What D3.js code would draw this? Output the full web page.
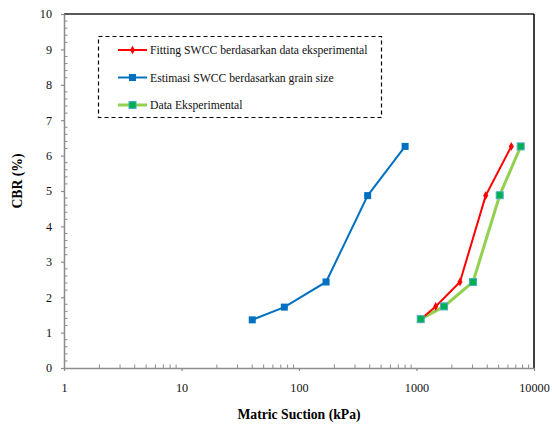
<!DOCTYPE html>
<html><head><meta charset="utf-8">
<script src="https://cdn.jsdelivr.net/npm/d3@7"></script>
<style>body{margin:0;background:#fff}svg{display:block}</style>
</head><body><svg id="c" width="552" height="424" style="font-family:'Liberation Serif'"></svg>
<script>
const fittingX = [1086, 1457, 2344, 3880, 6412];
const fittingY = [1.38, 1.74, 2.43, 4.87, 6.26];
const grainX = [40, 75, 170, 384, 800];
const grainY = [1.36, 1.72, 2.43, 4.87, 6.26];
const expX = [1086, 1714, 3027, 5107, 7707];
const expY = [1.38, 1.74, 2.43, 4.88, 6.26];
const xTicks = [1, 10, 100, 1000, 10000];
const yTicks = [0,1,2,3,4,5,6,7,8,9,10];
const legendLabels = ["Fitting SWCC  berdasarkan data eksperimental","Estimasi SWCC berdasarkan grain size","Data Eksperimental"];

const serif="'Liberation Serif'";
const W=552,H=424,m={l:64,r:18,t:14,b:56};
const svg=d3.select("#c");
const xs=d3.scaleLog().domain([1,10000]).range([m.l,W-m.r]);
const ys=d3.scaleLinear().domain([0,10]).range([H-m.b,m.t]);
const axisCol="#8c8c8c";

svg.append("line").attr("x1",xs(1)).attr("x2",xs(10000)).attr("y1",ys(10)).attr("y2",ys(10)).attr("stroke","#222").attr("stroke-width",1.3);
svg.append("line").attr("x1",xs(10000)).attr("x2",xs(10000)).attr("y1",ys(10)).attr("y2",ys(0)).attr("stroke","#000").attr("stroke-width",1.5);

const minorX=[];
for(let d=1; d<10000; d*=10) for(let k=2;k<10;k++) minorX.push(d*k);
svg.append("g").selectAll("line").data(minorX).join("line")
  .attr("x1",d=>xs(d)).attr("x2",d=>xs(d)).attr("y1",ys(0)).attr("y2",ys(0)-3.5).attr("stroke",axisCol).attr("stroke-width",1);
const minorY=d3.range(0,10.001,0.2).filter(v=>Math.abs(v-Math.round(v))>0.01);
svg.append("g").selectAll("line").data(minorY).join("line")
  .attr("x1",xs(1)).attr("x2",xs(1)+3.5).attr("y1",d=>ys(d)).attr("y2",d=>ys(d)).attr("stroke",axisCol).attr("stroke-width",1);

const xa=svg.append("g").attr("transform",`translate(0,${ys(0)})`)
  .call(d3.axisBottom(xs).tickValues(xTicks).tickFormat(d3.format("d")).tickSizeInner(3).tickSizeOuter(0).tickPadding(12));
const ya=svg.append("g").attr("transform",`translate(${xs(1)},0)`)
  .call(d3.axisLeft(ys).tickValues(yTicks).tickSizeInner(3).tickSizeOuter(0).tickPadding(9));
[xa,ya].forEach(a=>{
  a.attr("font-family",null).attr("font-size",null);
  a.select(".domain").attr("stroke",axisCol).attr("stroke-width",1.5);
  a.selectAll(".tick line").attr("stroke",axisCol).attr("stroke-width",1.2);
  a.selectAll("text").attr("fill","#111").style("font-family",serif).style("font-size","12.2px");
});

svg.append("text").attr("x",(xs(1)+xs(10000))/2).attr("y",419).attr("text-anchor","middle")
  .style("font-family",serif).style("font-size","13.7px").style("font-weight","bold").text("Matric Suction (kPa)");
svg.append("text").attr("transform",`translate(22,${(ys(0)+ys(10))/2-10}) rotate(-90)`).attr("text-anchor","middle")
  .style("font-family",serif).style("font-size","13.7px").style("font-weight","bold").text("CBR (%)");

const line=d3.line().x(d=>xs(d[0])).y(d=>ys(d[1]));
const zip=(a,b)=>a.map((v,i)=>[v,b[i]]);
const grain=zip(grainX,grainY), fit=zip(fittingX,fittingY), exp=zip(expX,expY);

svg.append("path").datum(grain).attr("d",line).attr("fill","none").attr("stroke","#0070c0").attr("stroke-width",2);
svg.append("g").selectAll("rect").data(grain).join("rect")
  .attr("x",d=>xs(d[0])-3.5).attr("y",d=>ys(d[1])-3.5).attr("width",7).attr("height",7).attr("fill","#0070c0");

svg.append("path").datum(exp).attr("d",line).attr("fill","none").attr("stroke","#92d050").attr("stroke-width",3);
svg.append("path").datum(fit).attr("d",line).attr("fill","none").attr("stroke","#ff0000").attr("stroke-width",2);
const diamond=d3.symbol().type(d3.symbolDiamond).size(22);
svg.append("g").selectAll("path").data(fit).join("path")
  .attr("transform",d=>`translate(${xs(d[0])},${ys(d[1])})`).attr("d",diamond).attr("fill","#ff0000");
svg.append("g").selectAll("rect").data(exp).join("rect")
  .attr("x",d=>xs(d[0])-3.5).attr("y",d=>ys(d[1])-3.5).attr("width",7).attr("height",7)
  .attr("fill","#00b050").attr("stroke","#4bacc6").attr("stroke-width",1);

const lg=svg.append("g");
lg.append("rect").attr("x",98.5).attr("y",36.5).attr("width",283).attr("height",81)
  .attr("fill","#fff").attr("stroke","#000").attr("stroke-width",1.2).attr("stroke-dasharray","4,3");
const rowsY=[50,77.5,105];
const lcol=["#ff0000","#0070c0","#92d050"];
legendLabels.forEach((t,i)=>{
  const yy=rowsY[i];
  lg.append("line").attr("x1",118).attr("x2",147).attr("y1",yy).attr("y2",yy).attr("stroke",lcol[i]).attr("stroke-width",i==2?3:2);
  if(i==0) lg.append("path").attr("transform",`translate(132.5,${yy})`).attr("d",diamond).attr("fill","#ff0000");
  if(i==1) lg.append("rect").attr("x",129).attr("y",yy-3.5).attr("width",7).attr("height",7).attr("fill","#0070c0");
  if(i==2) lg.append("rect").attr("x",129).attr("y",yy-3.5).attr("width",7).attr("height",7).attr("fill","#00b050").attr("stroke","#4bacc6");
  lg.append("text").attr("x",150).attr("y",yy+4).attr("fill","#111")
    .style("font-family",serif).style("font-size","11.7px").text(t);
});
</script></body></html>
